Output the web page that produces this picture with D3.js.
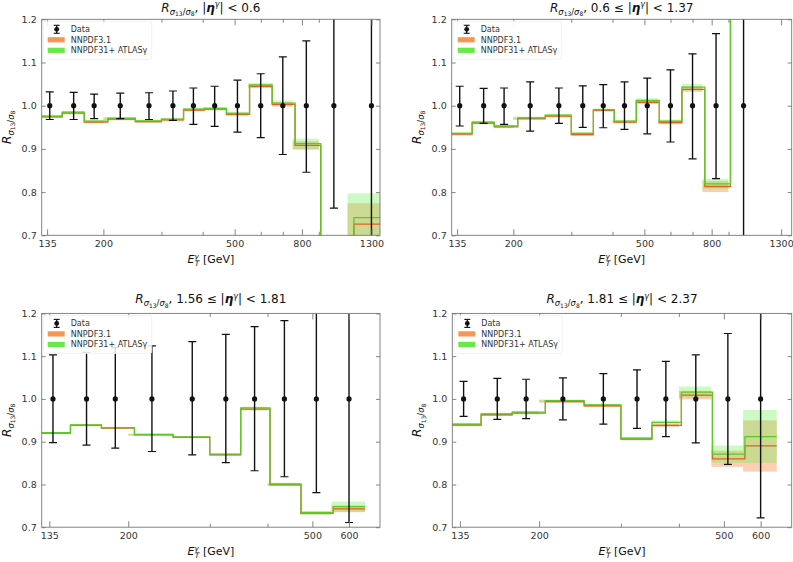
<!DOCTYPE html>
<html><head><meta charset="utf-8">
<script src="https://cdn.jsdelivr.net/npm/d3@7"></script>
<style>
body{margin:0;background:#fff;}
svg{display:block;font-family:"DejaVu Sans",sans-serif;}
</style></head><body>
<svg id="chart" width="793" height="562"></svg>
<script>
// ---------------- data ----------------
const binEdges = [125,150,175,200,250,300,350,400,470,550,650,750,900,1100,1500];

// panel 1: |eta| < 0.6 (14 bins)
const p1DataUp = [0.032,0.031,0.027,0.029,0.030,0.034,0.041,0.045,0.059,0.074,0.113,0.150,0.300,0.400];
const p1DataDn = [0.032,0.032,0.030,0.030,0.032,0.034,0.043,0.048,0.061,0.074,0.113,0.154,0.237,0.400];
const p1Nnpdf  = [0.974,0.983,0.962,0.969,0.963,0.967,0.990,0.992,0.980,1.045,1.003,0.908,0.550,0.726];
const p1NnpdfE = [0.003,0.003,0.003,0.003,0.003,0.003,0.003,0.003,0.004,0.004,0.005,0.010,0.050,0.048];
const p1Atlas  = [0.976,0.985,0.964,0.971,0.965,0.969,0.992,0.994,0.982,1.048,1.006,0.912,0.550,0.741];
const p1AtlasE = [0.003,0.003,0.003,0.003,0.003,0.003,0.003,0.003,0.004,0.005,0.006,0.012,0.050,0.056];

// panel 2: 0.6 <= |eta| < 1.37 (13 bins)
const p2DataUp = [0.045,0.040,0.041,0.055,0.041,0.046,0.049,0.055,0.064,0.083,0.120,0.167,0.350];
const p2DataDn = [0.047,0.041,0.043,0.059,0.041,0.050,0.051,0.055,0.065,0.084,0.123,0.169,0.350];
const p2Nnpdf  = [0.934,0.960,0.951,0.970,0.976,0.933,0.989,0.962,1.008,0.961,1.038,0.813,1.350];
const p2NnpdfE = [0.003,0.003,0.003,0.003,0.003,0.003,0.003,0.003,0.004,0.004,0.006,0.013,0.050];
const p2Atlas  = [0.936,0.962,0.953,0.972,0.978,0.936,0.991,0.964,1.012,0.964,1.043,0.819,1.350];
const p2AtlasE = [0.003,0.003,0.003,0.003,0.003,0.003,0.003,0.003,0.005,0.004,0.008,0.012,0.050];

// panel 3: 1.56 <= |eta| < 1.81 (10 bins)
const p3DataUp = [0.103,0.109,0.120,0.124,0.134,0.151,0.169,0.183,0.250,0.300];
const p3DataDn = [0.102,0.108,0.115,0.123,0.131,0.149,0.168,0.182,0.219,0.289];
const p3Nnpdf  = [0.920,0.938,0.932,0.916,0.910,0.869,0.976,0.799,0.733,0.743];
const p3NnpdfE = [0.002,0.002,0.002,0.002,0.002,0.002,0.003,0.003,0.004,0.008];
const p3Atlas  = [0.921,0.939,0.933,0.917,0.911,0.871,0.979,0.801,0.734,0.748];
const p3AtlasE = [0.002,0.002,0.002,0.002,0.002,0.002,0.003,0.003,0.004,0.012];

// panel 4: 1.81 <= |eta| < 2.37 (10 bins)
const p4DataUp = [0.041,0.048,0.046,0.049,0.059,0.068,0.088,0.103,0.153,0.300];
const p4DataDn = [0.041,0.048,0.046,0.049,0.059,0.069,0.088,0.103,0.153,0.278];
const p4Nnpdf  = [0.939,0.963,0.967,0.994,0.984,0.906,0.938,1.009,0.860,0.890];
const p4NnpdfE = [0.003,0.003,0.003,0.003,0.003,0.003,0.004,0.010,0.019,0.060];
const p4Atlas  = [0.941,0.965,0.969,0.996,0.986,0.908,0.945,1.016,0.871,0.912];
const p4AtlasE = [0.003,0.003,0.003,0.003,0.003,0.003,0.005,0.013,0.020,0.062];

const titlePre  = ["", "0.6 \u2264 ", "1.56 \u2264 ", "1.81 \u2264 "];
const titlePost = [" < 0.6", " < 1.37", " < 1.81", " < 2.37"];

const xTicksWide = [135,200,300,400,500,600,700,800,900,1300];
const xLabelsWide = [135,200,500,800,1300];
const xTicksNarrow = [135,200,300,400,500,600];
const xLabelsNarrow = [135,200,500,600];
const yTicks = [0.7,0.8,0.9,1.0,1.1,1.2];

const legendLabels = ["Data", "NNPDF3.1", "NNPDF31+ ATLAS\u03b3"];

// ---------------- layout ----------------
const panels = [
  {l:41.7, r:380,  t:19.3,  b:235.3, dom:[130,1380], nb:14, up:p1DataUp, dn:p1DataDn, nn:p1Nnpdf, nnE:p1NnpdfE, at:p1Atlas, atE:p1AtlasE, ticks:xTicksWide, labs:xLabelsWide, titleY:11.5},
  {l:451.7,r:791.7,t:19.3,  b:235.3, dom:[130,1400], nb:13, up:p2DataUp, dn:p2DataDn, nn:p2Nnpdf, nnE:p2NnpdfE, at:p2Atlas, atE:p2AtlasE, ticks:xTicksWide, labs:xLabelsWide, titleY:11.5},
  {l:41.7, r:380,  t:313.4, b:527.2, dom:[130,700],  nb:10, up:p3DataUp, dn:p3DataDn, nn:p3Nnpdf, nnE:p3NnpdfE, at:p3Atlas, atE:p3AtlasE, ticks:xTicksNarrow, labs:xLabelsNarrow, titleY:303},
  {l:452.3,r:791.7,t:313.4, b:527.2, dom:[130,700],  nb:10, up:p4DataUp, dn:p4DataDn, nn:p4Nnpdf, nnE:p4NnpdfE, at:p4Atlas, atE:p4AtlasE, ticks:xTicksNarrow, labs:xLabelsNarrow, titleY:303}
];

const GREEN_LINE = "#5cc82a", ORANGE_LINE = "#e2621c";
const GREEN_BAND = "rgba(100,240,70,0.32)", ORANGE_BAND = "rgba(248,130,60,0.38)";
const GREEN_PATCH = "#66ea44", ORANGE_PATCH = "#f99552";
const AXIS_COL = "#777", TEXT_COL = "#333";

const svg = d3.select("#chart");

function mathText(sel, segs) {
  let prev = 0;
  segs.forEach(s => {
    const ts = sel.append("tspan").text(s.t)
      .attr("font-size", s.fs)
      .attr("dy", (s.b || 0) - prev);
    if (s.dx) ts.attr("dx", s.dx);
    if (s.it) ts.attr("font-style", "italic");
    if (s.bold) ts.attr("font-weight", "bold");
    prev = s.b || 0;
  });
}
function rSegs(big) {
  return [
    {t:"R", fs:big, b:0, it:true},
    {t:"\u03c3", fs:big*0.7, b:big*0.25, it:true},
    {t:"13", fs:big*0.5, b:big*0.38},
    {t:"/", fs:big*0.7, b:big*0.25},
    {t:"\u03c3", fs:big*0.7, b:big*0.25, it:true},
    {t:"8", fs:big*0.5, b:big*0.38}
  ];
}

panels.forEach((p, pi) => {
  const edges = binEdges.slice(0, p.nb + 1);
  const lo = edges.slice(0, -1), hi = edges.slice(1);
  const centers = lo.map((a, i) => (a + hi[i]) / 2);

  const x = d3.scaleLog().domain(p.dom).range([p.l, p.r]);
  const y = d3.scaleLinear().domain([0.7, 1.2]).range([p.b, p.t]);

  const g = svg.append("g");
  const clipId = "clip" + pi;
  g.append("clipPath").attr("id", clipId).append("rect")
    .attr("x", p.l).attr("y", p.t).attr("width", p.r - p.l).attr("height", p.b - p.t);
  const plot = g.append("g").attr("clip-path", `url(#${clipId})`);

  // bands
  [[p.nn, p.nnE, ORANGE_BAND], [p.at, p.atE, GREEN_BAND]].forEach(([v, e, col]) => {
    plot.selectAll(null).data(v).enter().append("rect")
      .attr("x", (d, i) => x(lo[i]))
      .attr("width", (d, i) => x(hi[i]) - x(lo[i]))
      .attr("y", (d, i) => y(d + e[i]))
      .attr("height", (d, i) => y(d - e[i]) - y(d + e[i]))
      .attr("fill", col);
  });

  // step lines (steps-mid around bin centres)
  const stepPts = v => {
    const pts = [[lo[0], v[0]]];
    for (let i = 1; i < v.length; i++) pts.push([(centers[i - 1] + centers[i]) / 2, v[i]]);
    pts.push([hi[v.length - 1], v[v.length - 1]]);
    return pts;
  };
  const line = d3.line().x(d => x(d[0])).y(d => y(d[1])).curve(d3.curveStepAfter);
  plot.append("path").attr("d", line(stepPts(p.nn))).attr("fill", "none")
    .attr("stroke", ORANGE_LINE).attr("stroke-width", 1.3);
  plot.append("path").attr("d", line(stepPts(p.at))).attr("fill", "none")
    .attr("stroke", GREEN_LINE).attr("stroke-width", 1.3);

  // data error bars
  const dg = plot.append("g");
  centers.forEach((c, i) => {
    const cx = x(c);
    dg.append("line").attr("x1", cx).attr("x2", cx)
      .attr("y1", y(1 + p.up[i])).attr("y2", y(1 - p.dn[i]))
      .attr("stroke", "#111").attr("stroke-width", 1.4);
    [1 + p.up[i], 1 - p.dn[i]].forEach(v => {
      dg.append("line").attr("x1", cx - 4).attr("x2", cx + 4)
        .attr("y1", y(v)).attr("y2", y(v))
        .attr("stroke", "#111").attr("stroke-width", 1.2);
    });
    dg.append("circle").attr("cx", cx).attr("cy", y(1)).attr("r", 2.6).attr("fill", "#111");
  });

  // axes
  const styleAxis = a => {
    a.select(".domain").remove();
    a.selectAll(".tick line").attr("stroke", AXIS_COL).attr("stroke-width", 0.9);
    a.selectAll(".tick text").attr("fill", TEXT_COL).attr("font-size", 9.5)
      .attr("font-family", "DejaVu Sans, sans-serif");
  };
  const minor = p.ticks.filter(t => !p.labs.includes(t));
  styleAxis(g.append("g").attr("transform", `translate(0,${p.b})`)
    .call(d3.axisBottom(x).tickValues(p.labs).tickFormat(d3.format("d")).tickSize(-6).tickPadding(5)));
  styleAxis(g.append("g").attr("transform", `translate(0,${p.b})`)
    .call(d3.axisBottom(x).tickValues(minor).tickFormat("").tickSize(-3.5)));
  styleAxis(g.append("g").attr("transform", `translate(0,${p.t})`)
    .call(d3.axisTop(x).tickValues(p.labs).tickFormat("").tickSize(-6)));
  styleAxis(g.append("g").attr("transform", `translate(0,${p.t})`)
    .call(d3.axisTop(x).tickValues(minor).tickFormat("").tickSize(-3.5)));
  styleAxis(g.append("g").attr("transform", `translate(${p.l},0)`)
    .call(d3.axisLeft(y).tickValues(yTicks).tickFormat(d3.format(".1f")).tickSize(-4).tickPadding(5)));
  styleAxis(g.append("g").attr("transform", `translate(${p.r},0)`)
    .call(d3.axisRight(y).tickValues(yTicks).tickFormat("").tickSize(-4)));

  g.append("rect").attr("x", p.l).attr("y", p.t).attr("width", p.r - p.l).attr("height", p.b - p.t)
    .attr("fill", "none").attr("stroke", AXIS_COL).attr("stroke-width", 0.9);

  // legend
  const lg = g.append("g").attr("transform", `translate(${p.l},${p.t})`);
  lg.append("rect").attr("x", 2).attr("y", 2).attr("width", 108).attr("height", 38).attr("rx", 2)
    .attr("fill", "#fff").attr("fill-opacity", 0.85).attr("stroke", "#eee").attr("stroke-width", 0.8);
  const rows = [10, 20.5, 31];
  lg.append("line").attr("x1", 15).attr("x2", 15).attr("y1", rows[0] - 4).attr("y2", rows[0] + 4)
    .attr("stroke", "#111").attr("stroke-width", 1.3);
  [rows[0] - 4, rows[0] + 4].forEach(yy => lg.append("line").attr("x1", 12).attr("x2", 18)
    .attr("y1", yy).attr("y2", yy).attr("stroke", "#111").attr("stroke-width", 1.1));
  lg.append("circle").attr("cx", 15).attr("cy", rows[0]).attr("r", 2.4).attr("fill", "#111");
  lg.append("rect").attr("x", 6).attr("y", rows[1] - 2.6).attr("width", 17).attr("height", 5.2).attr("fill", ORANGE_PATCH);
  lg.append("rect").attr("x", 6).attr("y", rows[2] - 2.6).attr("width", 17).attr("height", 5.2).attr("fill", GREEN_PATCH);
  legendLabels.forEach((t, i) => {
    lg.append("text").attr("x", 29).attr("y", rows[i]).attr("dy", "0.35em")
      .attr("font-size", 8).attr("fill", TEXT_COL).text(t);
  });

  // title
  const cxp = (p.l + p.r) / 2;
  const title = g.append("text").attr("x", cxp).attr("y", p.titleY).attr("text-anchor", "middle").attr("fill", "#111");
  mathText(title, rSegs(12).concat([
    {t:", " + titlePre[pi] + "|", fs:12, b:0},
    {t:"\u03b7", fs:12, b:0, it:true, bold:true},
    {t:"\u03b3", fs:8, b:-4.5, it:true},
    {t:"|" + titlePost[pi], fs:12, b:0}
  ]));

  // y label
  const yl = g.append("text")
    .attr("transform", `translate(${p.l - 31},${(p.t + p.b) / 2}) rotate(-90)`)
    .attr("text-anchor", "middle").attr("fill", "#111");
  mathText(yl, rSegs(12));

  // x label
  const xl = g.append("text").attr("x", cxp).attr("y", p.b + 28).attr("text-anchor", "middle").attr("fill", "#111");
  mathText(xl, [
    {t:"E", fs:11, b:0, it:true},
    {t:"\u03b3", fs:7.5, b:-4.5, it:true},
    {t:"T", fs:7.5, b:3, it:true, dx:-4},
    {t:"  [GeV]", fs:11, b:0}
  ]);
});
</script>
</body></html>
